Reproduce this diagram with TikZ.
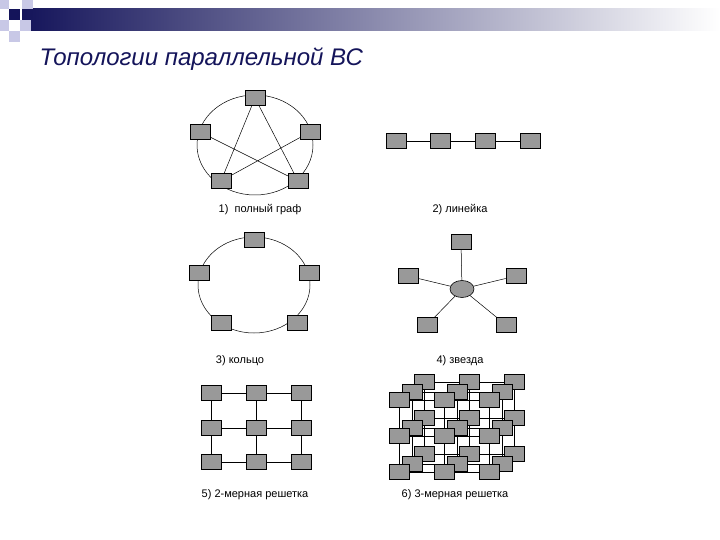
\documentclass[tikz,border=0pt]{standalone}
\usepackage{fontspec}
\setmainfont{Liberation Sans}
\usetikzlibrary{shapes.geometric}
\definecolor{navy}{HTML}{14145A}
\definecolor{lav}{HTML}{C8C8E6}
\definecolor{bx}{HTML}{999999}
\tikzset{pe/.style={draw=black,fill=bx,minimum width=20pt,minimum height=15pt,inner sep=0pt,line width=0.6pt},
lbl/.style={font=\fontsize{11}{13}\selectfont},
ln/.style={line width=0.5pt}}
\begin{document}
\begin{tikzpicture}[x=1pt,y=-1pt]
\useasboundingbox (0,0) rectangle (720,540);
\fill[white] (0,0) rectangle (720,540);
\shade[left color=navy,right color=white] (22,9) rectangle (720,31);
\fill[lav] (0,0) rectangle (9,9);
\fill[lav] (22,0) rectangle (33,9);
\fill[lav] (20,20) rectangle (31,31);
\fill[lav] (0,20) rectangle (9,31);
\fill[lav] (9,31) rectangle (20,42);
\fill[navy] (9,9) rectangle (20,20);
\node[anchor=base west,text=navy,font=\fontsize{24}{27}\selectfont\itshape] (title) at (36,66) {Топологии параллельной ВС};
% 1 full graph
\draw[ln] (255,145) ellipse (58 and 50);
\node[pe] (a1) at (255,98) {};
\node[pe] (a2) at (200,132) {};
\node[pe] (a3) at (310,132) {};
\node[pe] (a4) at (221,181) {};
\node[pe] (a5) at (298,181) {};
\draw[ln] (a1) -- (a4) (a1) -- (a5) (a2) -- (a5) (a3) -- (a4);
\foreach \n in {a1,a2,a3,a4,a5}{\node[pe] at (\n) {};}
\node[lbl] (l1) at (260,210) {1)\ \ полный граф};
% 2 line
\node[pe] (b1) at (396,141) {};
\node[pe] (b2) at (440,141) {};
\node[pe] (b3) at (485,141) {};
\node[pe] (b4) at (530,141) {};
\draw[ln] (b1) -- (b2) -- (b3) -- (b4);
\node[lbl] (l2) at (460,210) {2) линейка};
% 3 ring
\draw[ln] (254,285) ellipse (56 and 48);
\node[pe] (c1) at (254,240) {};
\node[pe] (c2) at (199,273) {};
\node[pe] (c3) at (309,273) {};
\node[pe] (c4) at (221,323) {};
\node[pe] (c5) at (297,323) {};
\node[lbl] (l3) at (240,361) {3) кольцо};
% 4 star
\node[pe,ellipse,minimum width=24pt,minimum height=17pt] (s0) at (462,289) {};
\node[pe] (s1) at (461,242) {};
\node[pe] (s2) at (408,276) {};
\node[pe] (s3) at (516,276) {};
\node[pe] (s4) at (427,325) {};
\node[pe] (s5) at (506,325) {};
\foreach \n in {s1,s2,s3,s4,s5}{\draw[ln] (s0) -- (\n);}
\node[lbl] (l4) at (460,361) {4) звезда};
% 5 2D lattice
\foreach \i/\x in {1/211,2/256,3/301}{
  \foreach \j/\y in {1/393,2/428,3/462}{
    \coordinate (m\i\j) at (\x,\y);
  }}
\foreach \j in {1,2,3}{\draw[ln] (m1\j) -- (m3\j); \draw[ln] (m\j1) -- (m\j3);}
\foreach \i in {1,2,3}{\foreach \j in {1,2,3}{\node[pe] (g\i\j) at (m\i\j) {};}}
\node[lbl] (l5) at (255,495) {5) 2-мерная решетка};
% 6 3D lattice
\foreach \k/\dx/\dy in {3/25/-18,2/13/-8,1/0/0}{
  \foreach \i/\x in {1/399,2/444,3/489}{
    \foreach \j/\y in {1/400,2/436,3/472}{
      \coordinate (p\i\j\k) at (\x+\dx,\y+\dy);
    }}}
\foreach \k in {3,2,1}{
  \foreach \j in {1,2,3}{\draw[ln] (p1\j\k) -- (p3\j\k); \draw[ln] (p\j1\k) -- (p\j3\k);}
}
\foreach \i in {1,2,3}{\foreach \j in {1,2,3}{\draw[ln] (p\i\j1) -- (p\i\j3);}}
\foreach \k in {3,2,1}{
  \foreach \i in {1,2,3}{\foreach \j in {1,2,3}{\node[pe] (q\i\j\k) at (p\i\j\k) {};}}}
\node[lbl] (l6) at (455,495) {6) 3-мерная решетка};
\end{tikzpicture}
\end{document}
